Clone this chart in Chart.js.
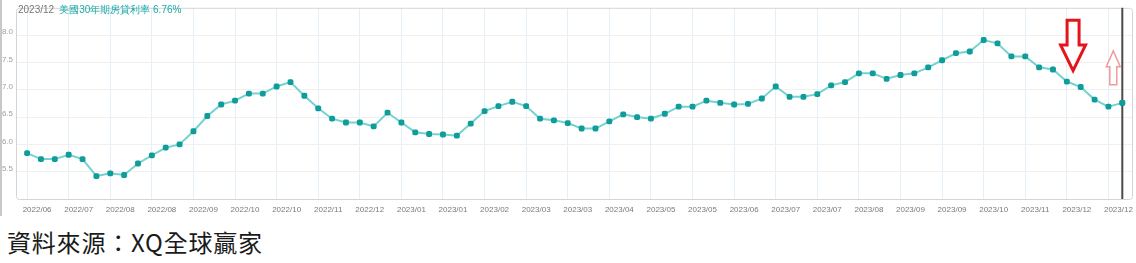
<!DOCTYPE html>
<html>
<head>
<meta charset="utf-8">
<script src="https://cdn.jsdelivr.net/npm/chart.js@4"></script>
<style>
  body { margin: 0; background: #fff; width: 1136px; height: 263px; overflow: hidden; }
  #wrap { position: absolute; left: 0; top: 0; width: 1136px; height: 222px; }
  #edge { position: absolute; left: 0; top: 0; width: 2px; height: 216px; background: #c8c8c8; }
  #chart { position: absolute; left: 0; top: 0; }
  #title { position: absolute; left: 18px; top: 3px; font: 10px "Liberation Sans", Arial, sans-serif; white-space: nowrap; }
  #title .d { color: #777; }
  #title .s { color: #19a9a9; margin-left: 5px; }
  #source { position: absolute; left: 7px; top: 224px; font: 400 24px "Noto Sans CJK TC", sans-serif; color: #1a1a1a; letter-spacing: 0.8px; }
</style>
</head>
<body>
<div id="wrap">
  <canvas id="chart" width="1136" height="222"></canvas>
  <div id="edge"></div>
  <div id="title"><span class="d">2023/12</span><span class="s">美國30年期房貸利率 6.76%</span></div>
</div>
<div id="source">資料來源：XQ全球贏家</div>
<script>
// x tick labels, one every 3 weekly points
const tickLabels = [
  "2022/06", "2022/07", "2022/08", "2022/08", "2022/09", "2022/10", "2022/10",
  "2022/11", "2022/12", "2023/01", "2023/01", "2023/02", "2023/03", "2023/03",
  "2023/04", "2023/05", "2023/05", "2023/06", "2023/07", "2023/07", "2023/08",
  "2023/09", "2023/09", "2023/10", "2023/11", "2023/12", "2023/12"
];

// weekly 30y mortgage rate (%)
const rates = [
  5.84, 5.73, 5.73, 5.81, 5.73, 5.42, 5.47, 5.44, 5.65, 5.80,
  5.94, 6.00, 6.24, 6.52, 6.73, 6.80, 6.93, 6.93, 7.06, 7.14,
  6.89, 6.66, 6.47, 6.40, 6.40, 6.33, 6.58, 6.40, 6.22, 6.19,
  6.18, 6.16, 6.38, 6.61, 6.70, 6.78, 6.70, 6.47, 6.44, 6.39,
  6.29, 6.29, 6.42, 6.55, 6.50, 6.47, 6.56, 6.69, 6.69, 6.80,
  6.76, 6.73, 6.74, 6.84, 7.06, 6.87, 6.87, 6.92, 7.08, 7.14,
  7.30, 7.30, 7.20, 7.27, 7.30, 7.41, 7.54, 7.67, 7.70, 7.91,
  7.85, 7.61, 7.61, 7.41, 7.37, 7.15, 7.05, 6.82, 6.69, 6.76
];

const yTicks = [5.5, 6.0, 6.5, 7.0, 7.5, 8.0];

// Plot frame, cursor line and the two arrow marks
const decorations = {
  id: "decorations",
  beforeDatasetsDraw(chart) {
    const { ctx, chartArea: a } = chart;
    ctx.save();
    ctx.strokeStyle = "#d4d4d4";
    ctx.lineWidth = 1;
    ctx.beginPath();
    ctx.roundRect(a.left + 0.5, a.top + 0.5, a.right - a.left, a.bottom - a.top, 3);
    ctx.stroke();
    ctx.restore();
  },
  afterDatasetsDraw(chart) {
    const { ctx, chartArea: a, scales } = chart;
    const x = scales.x, y = scales.y;
    ctx.save();

    // cursor line at the latest week
    const cx = x.getPixelForValue(rates.length - 1);
    ctx.strokeStyle = "#4a4a4a";
    ctx.lineWidth = 2;
    ctx.beginPath();
    ctx.moveTo(cx, a.top);
    ctx.lineTo(cx, a.bottom);
    ctx.stroke();

    // big red down arrow
    drawArrow(ctx, x.getPixelForValue(75.45), y.getPixelForValue(8.27), y.getPixelForValue(7.82),
      y.getPixelForValue(7.35), 6, 12.5, "#e5141c", 3);
    // light up arrow
    drawArrow(ctx, x.getPixelForValue(78.35), y.getPixelForValue(7.09), y.getPixelForValue(7.42),
      y.getPixelForValue(7.71), 3.5, 7, "#f29a9a", 1.5);

    // redraw last point above the cursor line
    const meta = chart.getDatasetMeta(0);
    meta.data[meta.data.length - 1].draw(ctx, a);
    ctx.restore();
  }
};

function drawArrow(ctx, cx, yTail, yHead, yTip, halfShaft, halfHead, color, width) {
  ctx.beginPath();
  ctx.moveTo(cx - halfShaft, yTail);
  ctx.lineTo(cx + halfShaft, yTail);
  ctx.lineTo(cx + halfShaft, yHead);
  ctx.lineTo(cx + halfHead, yHead);
  ctx.lineTo(cx, yTip);
  ctx.lineTo(cx - halfHead, yHead);
  ctx.lineTo(cx - halfShaft, yHead);
  ctx.closePath();
  ctx.fillStyle = "#fff";
  ctx.fill();
  ctx.strokeStyle = color;
  ctx.lineWidth = width;
  ctx.lineJoin = "miter";
  ctx.stroke();
}

new Chart(document.getElementById("chart"), {
  type: "line",
  data: {
    datasets: [{
      data: rates.map((v, i) => ({ x: i, y: v })),
      borderColor: "#74d3cf",
      borderWidth: 2,
      pointStyle: "rectRounded",
      pointRadius: 3.4,
      pointBackgroundColor: "#0e9d9a",
      pointBorderColor: "#0e9d9a",
      pointBorderWidth: 0,
      tension: 0
    }]
  },
  options: {
    responsive: false,
    animation: false,
    layout: { padding: { top: 2, right: 4, left: 0, bottom: 0 } },
    plugins: { legend: { display: false }, tooltip: { enabled: false } },
    scales: {
      x: {
        type: "linear",
        min: -0.8,
        max: 79.7,
        afterBuildTicks: (scale) => {
          scale.ticks = tickLabels.map((_, k) => ({ value: k * 3 }));
        },
        afterFit: (scale) => { scale.height = 23; },
        ticks: {
          callback: (value) => tickLabels[Math.round(value / 3)],
          autoSkip: false,
          maxRotation: 0,
          labelOffset: 10,
          padding: 6,
          color: "#7a7a7a",
          font: { family: "Liberation Sans", size: 8 }
        },
        grid: { color: "#e2f0f9", drawTicks: false },
        border: { display: false }
      },
      y: {
        min: 5.0,
        max: 8.5,
        afterBuildTicks: (scale) => {
          scale.ticks = yTicks.map((v) => ({ value: v }));
        },
        afterFit: (scale) => { scale.width = 16; },
        ticks: {
          callback: (value) => value.toFixed(1),
          labelOffset: -3,
          padding: 3,
          color: "#a0a0a0",
          font: { family: "Liberation Sans", size: 8 }
        },
        grid: { color: "#f0f0f0", drawTicks: false },
        border: { display: false }
      }
    }
  },
  plugins: [decorations]
});
</script>
</body>
</html>
